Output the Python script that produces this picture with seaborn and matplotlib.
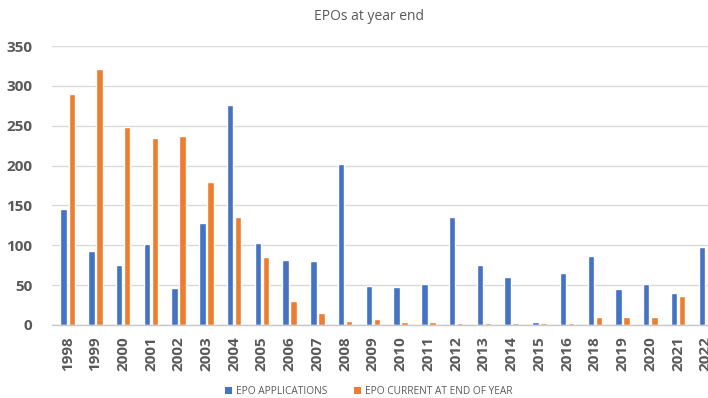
import matplotlib
matplotlib.use("Agg")
import matplotlib.pyplot as plt
import seaborn as sns
import pandas as pd
from matplotlib.patches import Patch

years = ["1998", "1999", "2000", "2001", "2002", "2003", "2004", "2005",
         "2006", "2007", "2008", "2009", "2010", "2011", "2012", "2013",
         "2014", "2015", "2016", "2018", "2019", "2020", "2021", "2022"]
epo_applications = [146, 93, 75, 102, 46, 128, 276, 103, 81, 80, 202, 49,
                    48, 52, 135, 75, 60, 4, 65, 87, 45, 51, 40, 98]
epo_current = [290, 321, 248, 234, 237, 180, 135, 85, 30, 15, 5, 8,
               4, 4, 3, 3, 3, 3, 3, 10, 10, 10, 37, 37]
series_names = ["EPO APPLICATIONS", "EPO CURRENT AT END OF YEAR"]
title = "EPOs at year end"

palette = {series_names[0]: "#4472C4", series_names[1]: "#ED7D31"}

df = pd.concat([
    pd.DataFrame({"year": years, "value": epo_applications, "series": series_names[0]}),
    pd.DataFrame({"year": years, "value": epo_current, "series": series_names[1]}),
])

sns.set_theme(style="white")
plt.rcParams["font.family"] = ["Open Sans", "DejaVu Sans"]

fig = plt.figure(figsize=(7.08, 3.98), dpi=100)
ax = fig.add_axes([52 / 708, 73 / 398, 656 / 708, 279 / 398])

sns.barplot(data=df, x="year", y="value", hue="series", order=years,
            hue_order=series_names, palette=palette, width=0.58, gap=0.2,
            saturation=1, legend=False, ax=ax)

ax.set_xlim(-0.566, 23.08)
ax.set_ylim(0, 350)
ax.set_yticks(range(0, 351, 50))
ax.yaxis.grid(True, color="#d9d9d9", linewidth=1)
ax.set_axisbelow(True)
for side in ["top", "right", "left"]:
    ax.spines[side].set_visible(False)
ax.spines["bottom"].set_color("#c8c8c8")
ax.spines["bottom"].set_linewidth(1)
ax.set_xlabel("")
ax.set_ylabel("")
ax.tick_params(axis="both", length=0)
ax.tick_params(axis="y", pad=14)
ax.tick_params(axis="x", pad=8)
for lbl in ax.get_yticklabels():
    lbl.set_fontsize(11)
    lbl.set_fontweight("bold")
    lbl.set_color("#595959")
for lbl in ax.get_xticklabels():
    lbl.set_fontsize(11)
    lbl.set_fontweight("bold")
    lbl.set_color("#595959")
    lbl.set_rotation(90)

fig.text(369 / 708, 1 - 17 / 398, title, ha="center", va="center",
         fontsize=10, color="#595959")

handles = [Patch(facecolor=palette[s], edgecolor="none") for s in series_names]
fig.legend(handles, series_names, loc="center", bbox_to_anchor=(369 / 708, 6.5 / 398),
           ncol=2, frameon=False, fontsize=7.3, labelcolor="#595959",
           handlelength=0.7, handleheight=0.7, handletextpad=0.4, columnspacing=2.6)

fig.savefig("out.png", dpi=100)
